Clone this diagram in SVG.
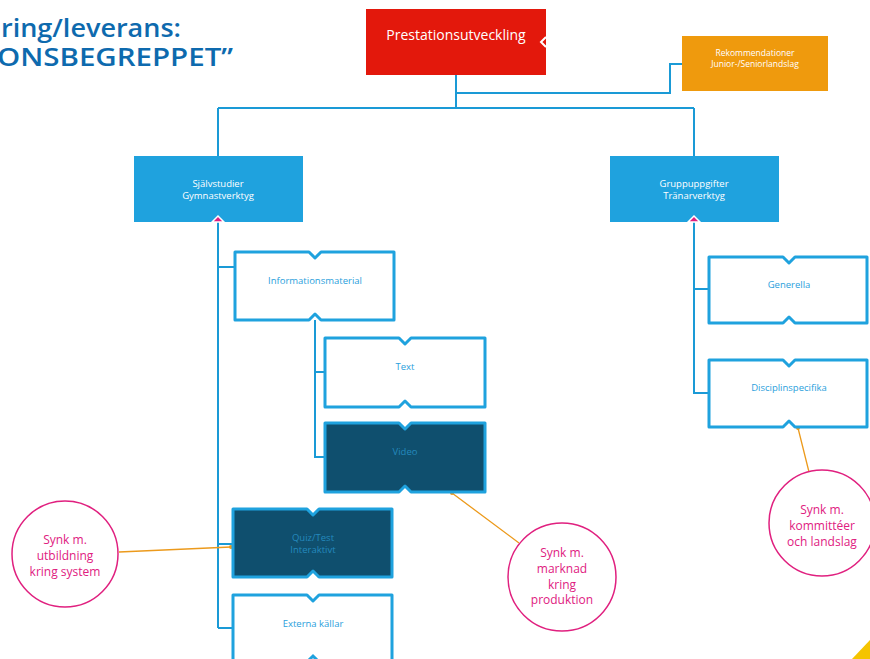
<svg xmlns="http://www.w3.org/2000/svg" width="870" height="659" viewBox="0 0 870 659">
<style>
text{font-family:"Open Sans","Noto Sans","Liberation Sans",sans-serif;text-anchor:middle}
.title{font-size:25px;font-weight:600;fill:#0e6aae;text-anchor:start}
.wt{fill:#ffffff;font-size:9.5px}
.bt{fill:#2aa0dc;font-size:9.5px}
.dt{fill:#2489bd;font-size:9.5px}
.box{fill:#ffffff;stroke:#1fa2de;stroke-width:3;stroke-linejoin:round}
.dark{fill:#0f4f6e;stroke:#1fa2de;stroke-width:3;stroke-linejoin:round}
.con{fill:none;stroke:#1a9ad6;stroke-width:2}
.or{fill:none;stroke:#ec9a1c;stroke-width:1.3}
.circ{fill:#ffffff;stroke:#e0207f;stroke-width:1.5}
.ct{fill:#e0207f;font-size:12px}
</style>
<text class="title" x="1" y="37" textLength="180" lengthAdjust="spacingAndGlyphs">ring/leverans:</text>
<text class="title" x="-3" y="66" textLength="236" lengthAdjust="spacingAndGlyphs">ONSBEGREPPET”</text>
<g id="connectors">
<path class="con" d="M456 75V108M218 108H694M218 108V156M694 108V156M456 93H670V64H682"/>
<path class="con" d="M218 222V628M218 267H235M218 544H233M218 628H233"/>
<path class="con" d="M315 320V457H325M315 372H325"/>
<path class="con" d="M694 222V393H709M694 289H709"/>
<path class="or" d="M119 552L231 547M452 493L519 543M798 428L809 472"/>
<circle cx="231" cy="547" r="2" fill="#ec9a1c"/>
<circle cx="452" cy="493" r="2" fill="#ec9a1c"/>
<circle cx="798" cy="428" r="2" fill="#ec9a1c"/>
</g>
<g id="prestation">
<rect x="366" y="9" width="180" height="66" fill="#e3180c"/>
<polyline points="546,37 541,42 546,47" fill="none" stroke="#ffffff" stroke-width="2"/>
<text x="456" y="40" fill="#ffffff" style="font-size:14px">Prestationsutveckling</text>
</g>
<g id="rekommendationer">
<rect x="682" y="36" width="146" height="55" fill="#ef9a0d"/>
<text class="wt" x="755" y="56" style="font-size:8.5px">Rekommendationer</text>
<text class="wt" x="755" y="67" style="font-size:8.5px">Junior-/Seniorlandslag</text>
</g>
<g id="sjalvstudier">
<rect x="134" y="156" width="169" height="66" fill="#1fa2de"/>
<path d="M212 222L218 216L224 222Z" fill="#e0207f" stroke="#ffffff" stroke-width="1.5"/>
<text class="wt" x="218" y="187">Självstudier</text>
<text class="wt" x="218" y="199">Gymnastverktyg</text>
</g>
<g id="gruppuppgifter">
<rect x="610" y="156" width="169" height="66" fill="#1fa2de"/>
<path d="M688 222L694 216L700 222Z" fill="#e0207f" stroke="#ffffff" stroke-width="1.5"/>
<text class="wt" x="694" y="187">Gruppuppgifter</text>
<text class="wt" x="694" y="199">Tränarverktyg</text>
</g>
<g id="informationsmaterial">
<path class="box" d="M235 252H309L315 258L321 252H394V320H321L315 314L309 320H235Z"/>
<text class="bt" x="315" y="284">Informationsmaterial</text>
</g>
<g id="text">
<path class="box" d="M325 338H399L405 344L411 338H485V407H411L405 401L399 407H325Z"/>
<text class="bt" x="405" y="370">Text</text>
</g>
<g id="video">
<path class="dark" d="M325 423H399L405 429L411 423H485V492H411L405 486L399 492H325Z"/>
<text class="dt" x="405" y="455">Video</text>
</g>
<g id="quiz">
<path class="dark" d="M233 509H307L313 515L319 509H392V577H319L313 571L307 577H233Z"/>
<text class="dt" x="313" y="541">Quiz/Test</text>
<text class="dt" x="313" y="553">Interaktivt</text>
</g>
<g id="externa">
<path class="box" d="M233 595H307L313 601L319 595H392V670H233Z"/>
<path d="M307 662L313 656L319 662" fill="none" stroke="#1fa2de" stroke-width="3"/>
<text class="bt" x="313" y="627">Externa källar</text>
</g>
<g id="generella">
<path class="box" d="M709 257H783L789 263L795 257H867V323H795L789 317L783 323H709Z"/>
<text class="bt" x="789" y="288">Generella</text>
</g>
<g id="disciplinspecifika">
<path class="box" d="M709 360H783L789 366L795 360H867V427H795L789 421L783 427H709Z"/>
<text class="bt" x="789" y="391">Disciplinspecifika</text>
</g>
<g id="synk-utbildning">
<circle class="circ" cx="65" cy="554" r="53"/>
<text class="ct" x="65" y="544">Synk m.</text>
<text class="ct" x="65" y="560">utbildning</text>
<text class="ct" x="65" y="576">kring system</text>
</g>
<g id="synk-marknad">
<circle class="circ" cx="562" cy="577" r="54"/>
<text class="ct" x="562" y="557">Synk m.</text>
<text class="ct" x="562" y="573">marknad</text>
<text class="ct" x="562" y="589">kring</text>
<text class="ct" x="562" y="604">produktion</text>
</g>
<g id="synk-kommitteer">
<circle class="circ" cx="822" cy="523" r="53"/>
<text class="ct" x="822" y="514">Synk m.</text>
<text class="ct" x="822" y="530">kommittéer</text>
<text class="ct" x="822" y="546">och landslag</text>
</g>
<polygon points="870,640 870,659 852,659" fill="#f5c400"/>
</svg>
